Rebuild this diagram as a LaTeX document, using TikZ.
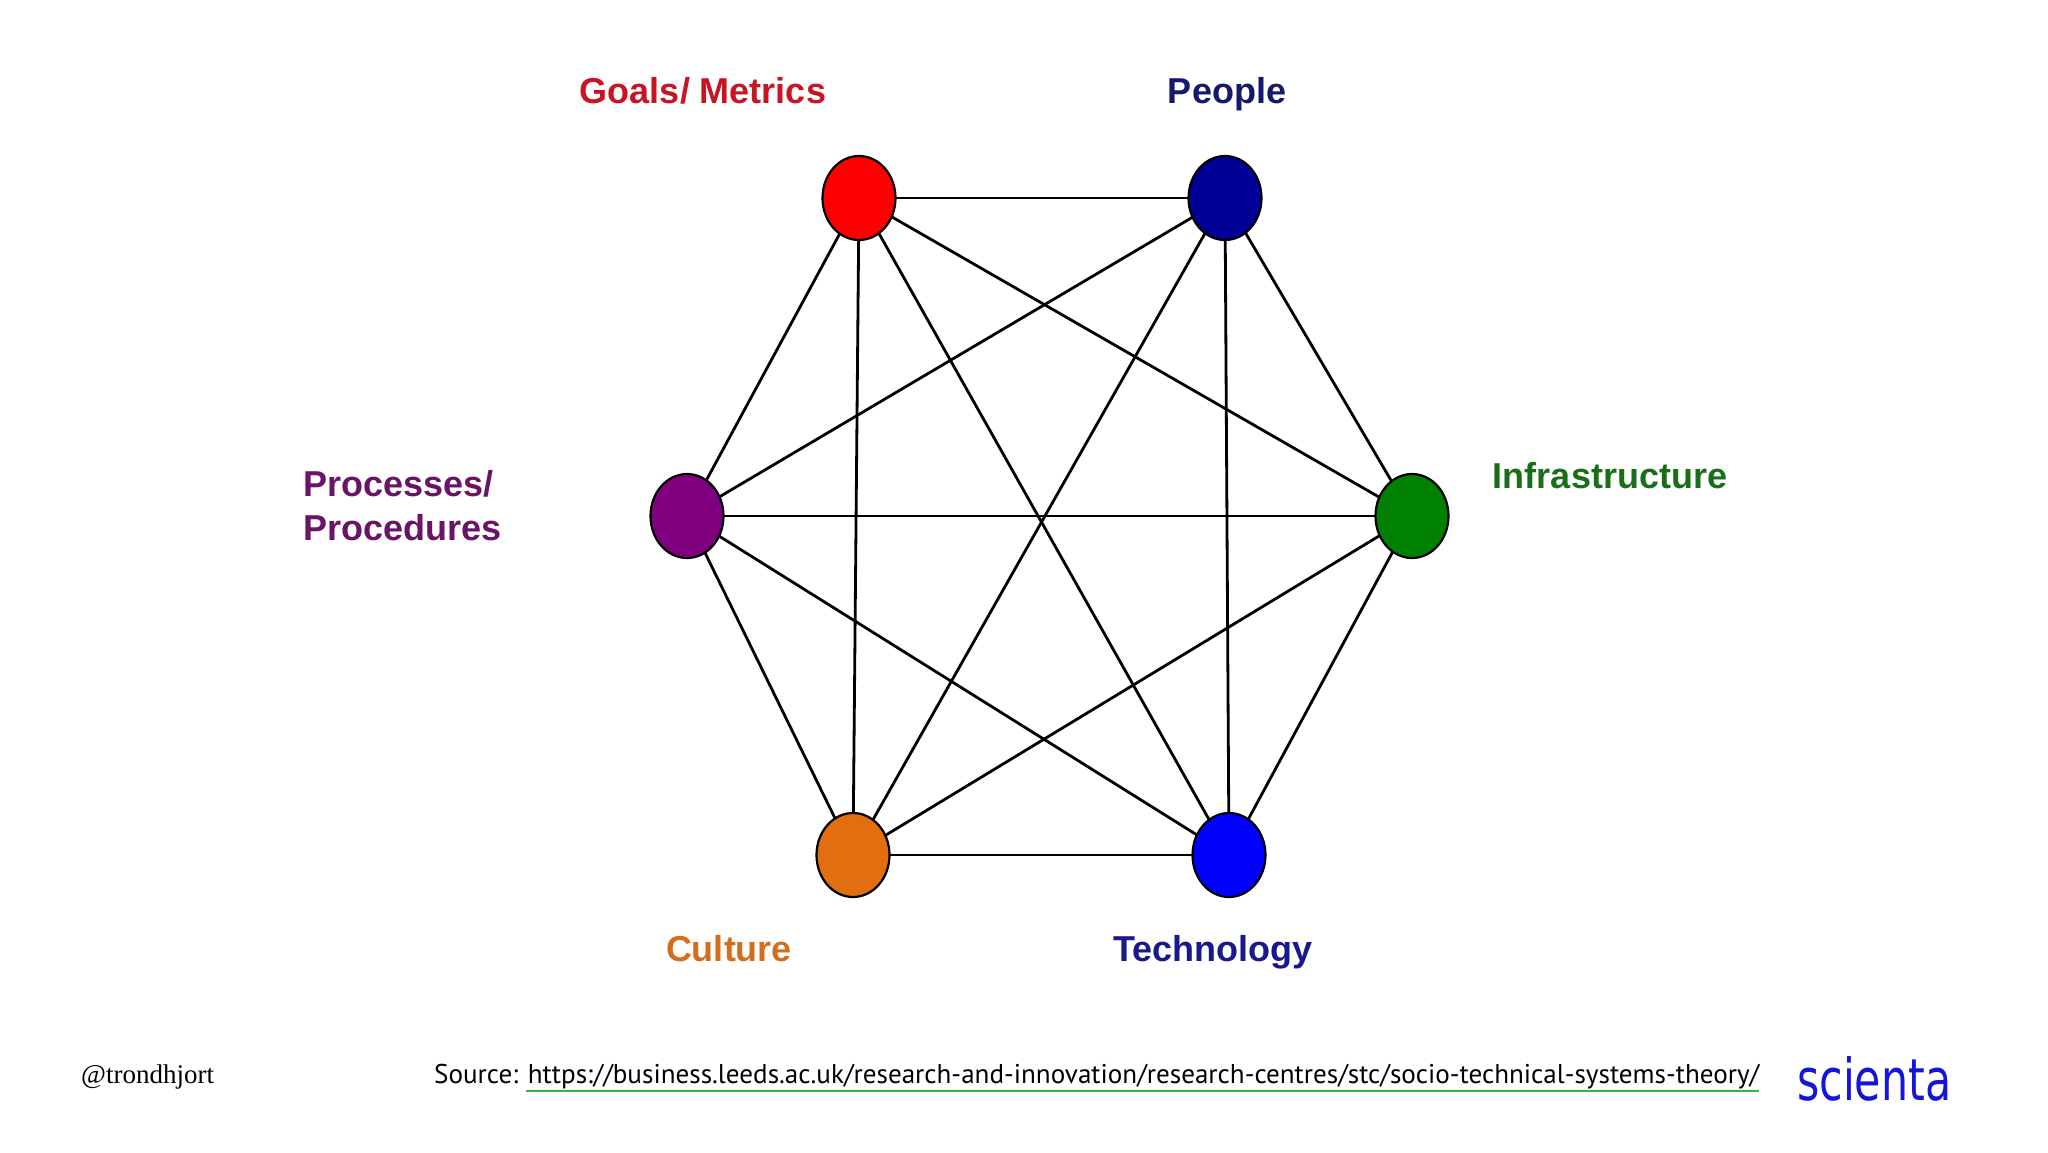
\documentclass[tikz,border=0pt]{standalone}
\usepackage{fontspec}
\setmainfont{Liberation Sans}
\newfontfamily\serifft{Liberation Serif}
\newfontfamily\srcft{PT Sans}
\newfontfamily\logoft{DejaVu Sans}
\usepackage{graphicx}
\usetikzlibrary{shapes.geometric}
\definecolor{cgoal}{RGB}{200,20,35}
\definecolor{cpeop}{RGB}{20,25,110}
\definecolor{cproc}{RGB}{105,20,100}
\definecolor{cinfra}{RGB}{25,110,25}
\definecolor{ccult}{RGB}{210,110,30}
\definecolor{ctech}{RGB}{25,25,140}
\definecolor{dgoal}{RGB}{255,0,0}
\definecolor{dpeop}{RGB}{0,0,150}
\definecolor{dproc}{RGB}{128,0,128}
\definecolor{dinfra}{RGB}{0,128,0}
\definecolor{dcult}{RGB}{225,110,15}
\definecolor{dtech}{RGB}{0,0,255}
\definecolor{logo}{RGB}{20,20,220}
\definecolor{urlline}{RGB}{60,180,60}
\begin{document}
\begin{tikzpicture}[x=1pt,y=-1pt,
  dot/.style={ellipse,draw=black,line width=2.2pt,minimum width=73pt,minimum height=84pt,inner sep=0pt},
  lbl/.style={font=\bfseries\fontsize{36}{44}\selectfont,inner sep=0pt,anchor=base},
  link/.style={line width=2.8pt,black}]
\useasboundingbox (0,0) rectangle (2048,1152);
\fill[white] (0,0) rectangle (2048,1152);
\coordinate (g) at (859,198);
\coordinate (p) at (1225,198);
\coordinate (r) at (687,516);
\coordinate (i) at (1412,516);
\coordinate (c) at (853,855);
\coordinate (t) at (1229,855);
\foreach \a/\b in {g/p,g/r,g/i,g/c,g/t,p/r,p/i,p/c,p/t,r/i,r/c,r/t,i/c,i/t,c/t}
  \draw[link] (\a) -- (\b);
\node[dot,fill=dgoal] (ng) at (g) {};
\node[dot,fill=dpeop] (np) at (p) {};
\node[dot,fill=dproc] (nr) at (r) {};
\node[dot,fill=dinfra] (ni) at (i) {};
\node[dot,fill=dcult] (nc) at (c) {};
\node[dot,fill=dtech] (nt) at (t) {};
\node[lbl,text=cgoal] (lg) at (703,103) {Goals/ Metrics};
\node[lbl,text=cpeop] (lp) at (1227,103) {People};
\node[lbl,text=cproc,anchor=base west,align=left] (lr) at (303,540) {Processes/\\Procedures};
\node[lbl,text=cinfra] (li) at (1610,488) {Infrastructure};
\node[lbl,text=ccult] (lc) at (729,961) {Culture};
\node[lbl,text=ctech] (lt) at (1213,961) {Technology};
\node[anchor=west,inner sep=0pt,font=\serifft\fontsize{27}{30}\selectfont] (tw) at (81,1077) {@trondhjort};
\node[anchor=west,inner sep=0pt] (src) at (434,1077) {\resizebox{1325pt}{!}{\srcft\fontsize{26}{30}\selectfont Source: https://business.leeds.ac.uk/research-and-innovation/research-centres/stc/socio-technical-systems-theory/}};
\draw[urlline,line width=2pt] (526,1091) -- (1759,1091);
\node[anchor=west,inner sep=0pt,text=logo] (lo) at (1797,1079) {\resizebox{154pt}{44pt}{\logoft scienta}};
\end{tikzpicture}
\end{document}
